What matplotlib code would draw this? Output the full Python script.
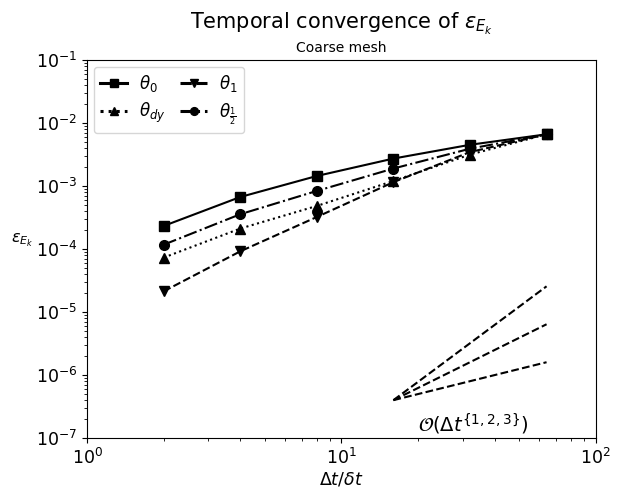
import numpy as np
import matplotlib
matplotlib.use('Agg')
import matplotlib.pyplot as plt

# dt / delta t ratios
dt_ratio = [2, 4, 8, 16, 32, 64]

# kinetic energy errors per time scheme
err_theta0 = [2.32e-4, 6.68e-4, 1.44e-3, 2.72e-3, 4.5e-3, 6.6e-3]
err_theta_dy = [7.3e-5, 2.11e-4, 4.82e-4, 1.2e-3, 3.15e-3, 6.6e-3]
err_theta1 = [2.13e-5, 9.18e-5, 3.22e-4, 1.15e-3, 3.45e-3, 6.6e-3]
err_theta_half = [1.17e-4, 3.56e-4, 8.34e-4, 1.89e-3, 3.9e-3, 6.6e-3]

# reference slopes (order 1, 2, 3)
ref_x = [16, 64]
ref_order1 = [4e-7, 1.6e-6]
ref_order2 = [4e-7, 6.4e-6]
ref_order3 = [4e-7, 2.56e-5]

fig = plt.figure(figsize=(6.22, 4.99), dpi=100)
ax = fig.add_axes([0.140, 0.122, 0.818, 0.758])

ax.loglog(dt_ratio, err_theta0, 'k-', marker='s', lw=1.5, ms=7, label=r'$\theta_0$')
ax.loglog(dt_ratio, err_theta_dy, 'k:', marker='^', lw=1.5, ms=7, label=r'$\theta_{dy}$')
ax.loglog(dt_ratio, err_theta1, 'k--', marker='v', lw=1.5, ms=7, label=r'$\theta_1$')
ax.loglog(dt_ratio, err_theta_half, 'k-.', marker='o', lw=1.5, ms=7, label=r'$\theta_{\frac{1}{2}}$')

for ref in [ref_order1, ref_order2, ref_order3]:
    ax.loglog(ref_x, ref, 'k--', lw=1.5)
ax.text(33, 1.65e-7, r'$\mathcal{O}(\Delta t^{\{1,2,3\}})$', fontsize=14,
        ha='center', va='center')

ax.set_xlim(1, 100)
ax.set_ylim(1e-7, 1e-1)
ax.tick_params(labelsize=12.5)
ax.set_xlabel(r'$\Delta t/\delta t$', fontsize=12.5, labelpad=2)
ax.set_ylabel(r'$\varepsilon_{E_k}$', fontsize=11.5, rotation=0, labelpad=10)
leg = ax.legend(loc='upper left', ncol=2, fontsize=12, handlelength=1.6,
                columnspacing=0.9, handletextpad=0.7, borderaxespad=0.4,
                markerscale=0.8, labelspacing=0.4)
for line in leg.get_lines():
    line.set_linewidth(2.2)

fig.suptitle(r'Temporal convergence of $\varepsilon_{E_k}$', x=0.549, y=0.978, fontsize=15)
ax.set_title('Coarse mesh', fontsize=10)

fig.savefig('out.png', dpi=100)
